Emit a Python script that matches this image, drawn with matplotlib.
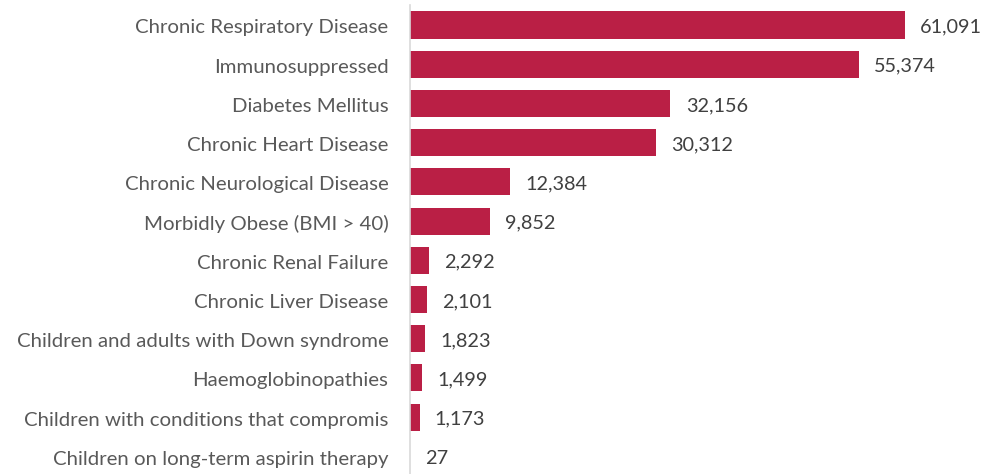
import matplotlib.pyplot as plt

categories = [
    'Chronic Respiratory Disease',
    'Immunosuppressed',
    'Diabetes Mellitus',
    'Chronic Heart Disease',
    'Chronic Neurological Disease',
    'Morbidly Obese (BMI > 40)',
    'Chronic Renal Failure',
    'Chronic Liver Disease',
    'Children and adults with Down syndrome',
    'Haemoglobinopathies',
    'Children with conditions that compromis',
    'Children on long-term aspirin therapy',
]
values = [61091, 55374, 32156, 30312, 12384, 9852, 2292, 2101, 1823, 1499, 1173, 27]

bar_color = '#BA1F45'

plt.rcParams['font.family'] = ['Lato', 'DejaVu Sans']

fig = plt.figure(figsize=(9.86, 4.74), dpi=100)
ax = fig.add_axes([410 / 986, 0, 576 / 986, 1 - 5 / 474])

pos = list(range(len(categories)))
ax.barh(pos, values, height=0.69, color=bar_color)

for p, v in zip(pos, values):
    ax.annotate(f'{v:,}', (v, p), xytext=(11, -1.5), textcoords='offset points',
                va='center', ha='left', fontsize=14.3, color='#404040')

ax.set_yticks(pos)
ax.set_yticklabels(categories, fontsize=14.7, color='#595959')
for lbl in ax.get_yticklabels():
    lbl.set_va('center')
ax.tick_params(axis='y', length=0, pad=15.5)
ax.set_xticks([])
ax.set_xlim(0, 576 / 0.0081)
ax.set_ylim(11.45, -0.51)

# nudge category labels down a bit to sit like the original
import matplotlib.transforms as mtransforms
offset = mtransforms.ScaledTranslation(0, -3 / 100, fig.dpi_scale_trans)
for lbl in ax.get_yticklabels():
    lbl.set_transform(lbl.get_transform() + offset)

for side in ['top', 'right', 'bottom']:
    ax.spines[side].set_visible(False)
ax.spines['left'].set_color('#D9D9D9')
ax.spines['left'].set_linewidth(1.2)

fig.savefig('out.png', dpi=100)
